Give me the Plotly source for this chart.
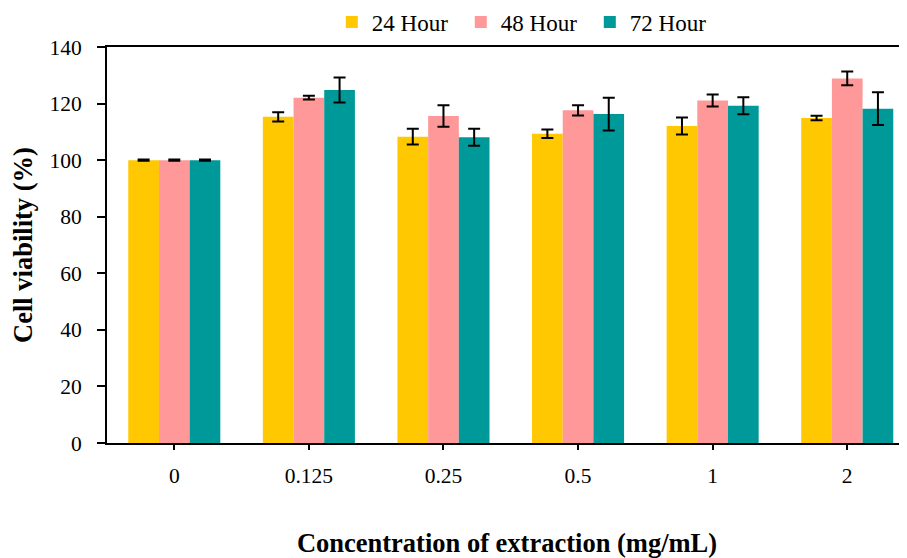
import plotly.graph_objects as go

categories = ["0", "0.125", "0.25", "0.5", "1", "2"]
h24 = [100, 115.3, 108.3, 109.3, 112.1, 114.9]
h24_err = [0.2, 1.6, 2.8, 1.5, 3.0, 0.8]
h48 = [100, 122.1, 115.6, 117.6, 121.1, 128.9]
h48_err = [0.2, 0.7, 3.8, 1.8, 2.1, 2.4]
h72 = [100, 124.8, 108.1, 116.3, 119.2, 118.2]
h72_err = [0.2, 4.4, 3.0, 5.8, 3.0, 5.8]

series = [
    ("24 Hour", h24, h24_err, "#FFC800"),
    ("48 Hour", h48, h48_err, "#FF9999"),
    ("72 Hour", h72, h72_err, "#009999"),
]

FONT = "Liberation Serif"

fig = go.Figure()
for name, vals, errs, color in series:
    fig.add_trace(go.Bar(
        x=categories, y=vals, name=name,
        marker=dict(color=color, line=dict(width=0)),
        error_y=dict(type="data", array=errs, visible=True,
                     color="black", thickness=2, width=6),
    ))

# page body has an 8px margin, so the figure is 899x550 and offset by 8px
fig.update_layout(
    width=899, height=550,
    margin=dict(l=99, r=0, t=39, b=115, autoexpand=False),
    paper_bgcolor="white", plot_bgcolor="white",
    barmode="group", bargap=0.316, bargroupgap=0,
    font=dict(family=FONT, size=20, color="black"),
    legend=dict(orientation="h", x=0.281, xanchor="left",
                y=1.063, yanchor="middle",
                font=dict(family=FONT, size=23, color="black"),
                itemwidth=30, entrywidth=84, entrywidthmode="pixels",
                tracegroupgap=0),
    showlegend=True,
)
fig.update_xaxes(
    type="category", range=[-0.5, 5.444],
    showline=True, linecolor="black", linewidth=2, mirror=True,
    ticks="outside", ticklen=5, tickwidth=2, tickcolor="black",
    ticklabelstandoff=7,
    tickfont=dict(family=FONT, size=21.5, color="black"),
    showgrid=False, zeroline=False,
    title=dict(text="<b>Concentration of extraction (mg/mL)</b>",
               font=dict(family=FONT, size=26.5, color="black"),
               standoff=47),
)
fig.update_yaxes(
    range=[0, 140], dtick=20,
    showline=True, linecolor="black", linewidth=2, mirror=False,
    ticks="outside", ticklen=8, tickwidth=2, tickcolor="black",
    ticklabelstandoff=11,
    tickfont=dict(family=FONT, size=21.5, color="black"),
    showgrid=False, zeroline=False,
    title=dict(text="<b>Cell viability (%)</b>",
               font=dict(family=FONT, size=26.5, color="black"),
               standoff=12),
)

fig.write_html("out.html")
